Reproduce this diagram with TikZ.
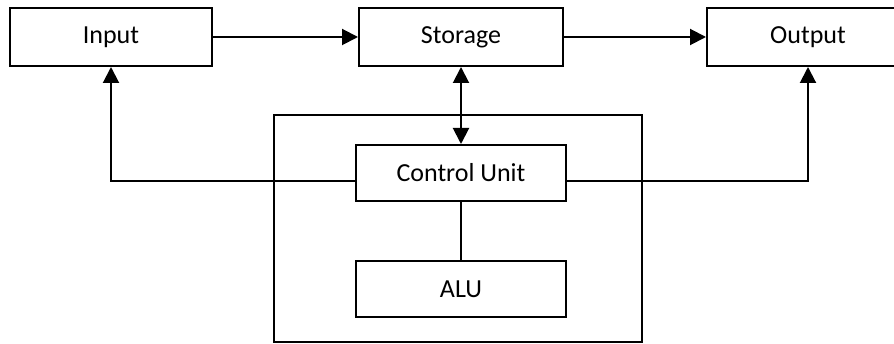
\documentclass[tikz,border=0pt]{standalone}
\usepackage{fontspec}
\setmainfont{Carlito}
\usetikzlibrary{arrows.meta, positioning}

\begin{document}
\begin{tikzpicture}[
    x=1pt, y=-1pt,
    box/.style={draw, line width=2pt, minimum height=58pt, inner sep=0pt, font=\fontsize{26}{31}\selectfont},
    arr/.style={-{Triangle[length=16pt, width=16pt]}, line width=2pt},
    darr/.style={{Triangle[length=16pt, width=16pt]}-{Triangle[length=16pt, width=16pt]}, line width=2pt},
    ln/.style={line width=2pt}
]
    \useasboundingbox (0,0) rectangle (894,344);

    \node[box, minimum width=202pt] (in) at (111,37) {Input};
    \node[box, minimum width=204pt, right=145pt of in] (st) {Storage};
    \node[box, minimum width=202pt, right=142pt of st] (out) {Output};

    % processor block
    \node[box, minimum width=368pt, minimum height=227pt] (cpu) at (458,228.5) {};
    \node[box, minimum width=210pt, minimum height=56pt, below=77pt of st] (cu) {Control Unit};
    \node[box, minimum width=210pt, minimum height=56pt, below=58pt of cu] (alu) {ALU};

    \draw[arr] (in) -- (st);
    \draw[arr] (st) -- (out);
    \draw[darr] (st) -- (cu);
    \draw[arr] ([yshift=-8pt]cu.west) -| (in.south);
    \draw[arr] ([yshift=-8pt]cu.east) -| (out.south);
    \draw[ln] (cu) -- (alu);
\end{tikzpicture}
\end{document}
